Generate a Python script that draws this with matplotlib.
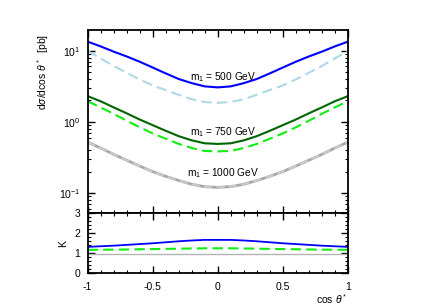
import matplotlib

matplotlib.use("Agg")

import matplotlib.pyplot as plt
import numpy as np
from matplotlib.ticker import FixedLocator, MultipleLocator, LogLocator, NullFormatter

plt.rcParams["font.family"] = ["Liberation Sans", "DejaVu Sans"]
plt.rcParams["mathtext.fontset"] = "custom"
plt.rcParams["mathtext.rm"] = "Liberation Sans"
plt.rcParams["mathtext.it"] = "Liberation Sans:italic"

# ---------- data (symmetric in cos theta*) ----------
half_x = [0.0, 0.1, 0.2, 0.3, 0.4, 0.5, 0.6, 0.7, 0.8, 0.9, 1.0]

sig_500_nlo = [3.05, 3.15, 3.5, 4.0, 4.8, 5.8, 7.0, 8.3, 9.7, 11.5, 13.4]
sig_500_lo = [1.85, 1.9, 2.08, 2.4, 2.8, 3.25, 3.95, 4.9, 6.1, 7.8, 9.9]
sig_750_nlo = [0.49, 0.5, 0.55, 0.63, 0.75, 0.9, 1.08, 1.32, 1.6, 1.95, 2.3]
sig_750_lo = [0.385, 0.39, 0.43, 0.49, 0.58, 0.69, 0.84, 1.04, 1.3, 1.6, 1.95]
sig_1000_nlo = [0.12, 0.123, 0.133, 0.15, 0.172, 0.2, 0.24, 0.29, 0.35, 0.43, 0.52]
sig_1000_lo = [0.12, 0.123, 0.133, 0.15, 0.172, 0.2, 0.24, 0.29, 0.35, 0.43, 0.52]

k_500 = [1.67, 1.67, 1.64, 1.6, 1.55, 1.5, 1.46, 1.42, 1.38, 1.35, 1.32]
k_750 = [1.25, 1.25, 1.24, 1.23, 1.22, 1.21, 1.2, 1.19, 1.18, 1.18, 1.17]
k_1000 = [0.98, 0.98, 0.98, 0.98, 0.98, 0.98, 0.98, 0.98, 0.98, 0.98, 0.98]

mass_labels = ["m$_1$ = 500 GeV", "m$_1$ = 750 GeV", "m$_1$ = 1000 GeV"]
label_y = [4.3, 0.72, 0.19]


def mirror(vals):
    v = np.asarray(vals, dtype=float)
    return np.concatenate([v[:0:-1], v])


x = np.concatenate([-np.asarray(half_x)[:0:-1], np.asarray(half_x)])

fig = plt.figure(figsize=(4.36, 3.05), dpi=100)
ax = fig.add_axes([0.2007, 0.3007, 0.5975, 0.6009])
axk = fig.add_axes([0.2007, 0.104, 0.5975, 0.1967], sharex=ax)

dash = (0, (5, 2.5))
ax.plot(x, mirror(sig_500_lo), color="#add8e6", lw=1.5, ls=dash)
ax.plot(x, mirror(sig_500_nlo), color="#0000ff", lw=1.5)
ax.plot(x, mirror(sig_750_lo), color="#11ee11", lw=1.5, ls=dash)
ax.plot(x, mirror(sig_750_nlo), color="#006400", lw=1.5)
ax.plot(x, mirror(sig_1000_nlo), color="#a8a8a8", lw=2.0)
ax.plot(x, mirror(sig_1000_lo), color="#cfcfcf", lw=1.2, ls=dash)

for lab, yy in zip(mass_labels, label_y):
    ax.text(0.04, yy, lab, ha="center", va="center", fontsize=7.3)

ax.set_yscale("log")
ax.set_xlim(-1, 1)
ax.set_ylim(0.052, 19.5)
ax.yaxis.set_major_locator(LogLocator(base=10))
ax.yaxis.set_minor_locator(LogLocator(base=10, subs=np.arange(2, 10)))
ax.yaxis.set_minor_formatter(NullFormatter())
plt.setp(ax.get_xticklabels(), visible=False)

axk.plot(x, mirror(k_1000), color="#b4b4b4", lw=1.0)
axk.plot(x, mirror(k_750), color="#11ee11", lw=1.5, ls=dash)
axk.plot(x, mirror(k_500), color="#0000ff", lw=1.3)
axk.set_ylim(0, 3)
axk.yaxis.set_major_locator(FixedLocator([0, 1, 2, 3]))
axk.yaxis.set_minor_locator(MultipleLocator(0.2))
axk.xaxis.set_major_locator(FixedLocator([-1, -0.5, 0, 0.5, 1]))
axk.xaxis.set_minor_locator(MultipleLocator(0.1))
axk.set_xticklabels(["-1", "-0.5", "0", "0.5", "1"])

for a in (ax, axk):
    for s in a.spines.values():
        s.set_linewidth(1.3)
    a.tick_params(which="both", direction="in", top=True, right=True,
                  labelsize=7.5)
    a.tick_params(axis="y", pad=5)
    a.tick_params(axis="x", pad=6)
    a.tick_params(which="major", length=5, width=1.0)
    a.tick_params(which="minor", length=2.5, width=0.8)

fig.text(0.099, 0.765, r"d$\sigma$/dcos $\theta^*$  [pb]", rotation=90,
         ha="center", va="center", fontsize=7.5)
fig.text(0.145, 0.203, "K", rotation=90, ha="center", va="center", fontsize=7.5)
fig.text(0.796, 0.018, r"cos $\theta^*$", ha="right", va="center", fontsize=7.5)

fig.savefig("out.png", dpi=100)
